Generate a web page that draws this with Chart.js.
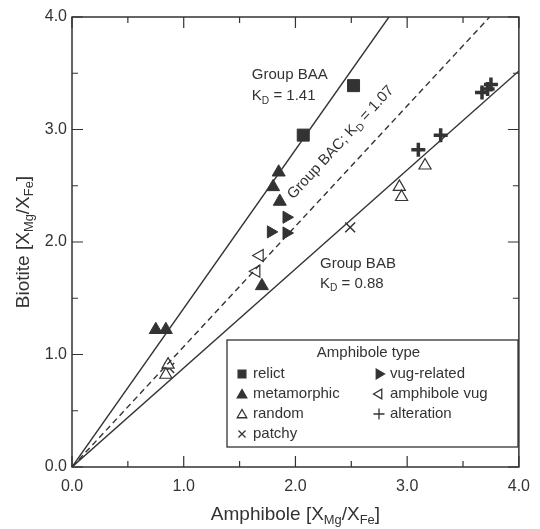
<!DOCTYPE html>
<html>
<head>
<meta charset="utf-8">
<script src="https://cdn.jsdelivr.net/npm/chart.js@4.4.0/dist/chart.umd.min.js"></script>
<style>
  html, body { margin: 0; padding: 0; background: #fff; }
  #kdChart { display: block; }
</style>
</head>
<body>
<canvas id="kdChart" width="540" height="529"></canvas>
<script>
// axis ticks
const tickVals = [0, 1, 2, 3, 4];

// partition coefficients of the three groups
const kdBAA = 1.41;
const kdBAC = 1.07;
const kdBAB = 0.88;

// amphibole / biotite XMg/XFe pairs
const relictX = [2.07, 2.52];
const relictY = [2.95, 3.39];
const metaX = [0.75, 0.84, 1.80, 1.85, 1.86, 1.70];
const metaY = [1.22, 1.22, 2.49, 2.62, 2.36, 1.61];
const randomX = [0.86, 0.84, 2.93, 2.95, 3.16];
const randomY = [0.91, 0.82, 2.49, 2.40, 2.68];
const patchyX = [0.87, 2.49];
const patchyY = [0.88, 2.13];
const vugRelX = [1.92, 1.78, 1.92];
const vugRelY = [2.22, 2.09, 2.08];
const amphVugX = [1.68, 1.65];
const amphVugY = [1.88, 1.74];
const altX = [3.10, 3.30, 3.67, 3.72, 3.75];
const altY = [2.82, 2.95, 3.33, 3.36, 3.40];

const ink = '#333';
const FONT = '"Liberation Sans", Arial, sans-serif';

const pts = (xs, ys) => xs.map((x, i) => ({ x: x, y: ys[i] }));
// line through origin with slope kd, cut at the plot frame (4 x 4)
const kdLine = kd => kd >= 1 ? [{ x: 0, y: 0 }, { x: 4 / kd, y: 4 }] : [{ x: 0, y: 0 }, { x: 4, y: 4 * kd }];

const lineDs = (kd, dash) => ({
    type: 'line', data: kdLine(kd), borderColor: ink, borderWidth: 1.4,
    borderDash: dash, pointRadius: 0, fill: false, isLegend: false
});

const mk = (label, xs, ys, style, extra) => Object.assign({
    label: label, data: pts(xs, ys), pointStyle: style, pointRadius: 7,
    backgroundColor: ink, borderColor: ink, borderWidth: 1, isLegend: true
}, extra || {});

const datasets = [
    lineDs(kdBAA, []),
    lineDs(kdBAC, [6, 4]),
    lineDs(kdBAB, []),
    mk('relict', relictX, relictY, 'rect', { pointRadius: 8.5, legendR: 5.5 }),
    mk('metamorphic', metaX, metaY, 'triangle', { pointRadius: 7.5, legendR: 5.5 }),
    mk('random', randomX, randomY, 'triangle', { backgroundColor: '#fff', borderWidth: 1.2, legendR: 5.5 }),
    mk('patchy', patchyX, patchyY, 'crossRot', { borderWidth: 1.5, legendR: 5 }),
    mk('vug-related', vugRelX, vugRelY, 'triangle', { rotation: 90, legendR: 5.5 }),
    mk('amphibole vug', amphVugX, amphVugY, 'triangle', { rotation: -90, backgroundColor: '#fff', borderWidth: 1.2, legendR: 5.5 }),
    mk('alteration', altX, altY, 'cross', { borderWidth: 3.5, legendR: 5.5 })
];

// text with subscripts: parts = [[text, isSub], ...]
function richWidth(ctx, parts, size) {
    let w = 0;
    parts.forEach(p => { ctx.font = (p[1] ? size * 0.68 : size) + 'px ' + FONT; w += ctx.measureText(p[0]).width; });
    return w;
}
function drawRich(ctx, parts, x, y, size) {
    ctx.textBaseline = 'alphabetic';
    ctx.textAlign = 'left';
    let cx = x;
    parts.forEach(p => {
        const s = p[1] ? size * 0.68 : size;
        ctx.font = s + 'px ' + FONT;
        ctx.fillText(p[0], cx, p[1] ? y + size * 0.22 : y);
        cx += ctx.measureText(p[0]).width;
    });
}

const decor = {
    id: 'decor',
    beforeDatasetsDraw(chart) {
        const { ctx, chartArea: a, scales: { x, y } } = chart;
        ctx.save();
        ctx.strokeStyle = ink;
        ctx.lineWidth = 1.5;
        ctx.strokeRect(a.left, a.top, a.right - a.left, a.bottom - a.top);
        ctx.lineWidth = 1.2;
        for (let v = 0; v <= 4; v += 0.5) {
            const len = Number.isInteger(v) ? 11 : 6;
            const px = x.getPixelForValue(v), py = y.getPixelForValue(v);
            ctx.beginPath();
            ctx.moveTo(px, a.bottom); ctx.lineTo(px, a.bottom - len);
            ctx.moveTo(px, a.top); ctx.lineTo(px, a.top + len);
            ctx.moveTo(a.left, py); ctx.lineTo(a.left + len, py);
            ctx.moveTo(a.right, py); ctx.lineTo(a.right - len, py);
            ctx.stroke();
        }
        ctx.restore();
    },
    afterDraw(chart) {
        const { ctx, chartArea: a, scales: { x, y } } = chart;
        ctx.save();
        ctx.fillStyle = ink;

        // axis titles
        const tSize = 19;
        const xt = [['Amphibole [X', false], ['Mg', true], ['/X', false], ['Fe', true], [']', false]];
        const yt = [['Biotite [X', false], ['Mg', true], ['/X', false], ['Fe', true], [']', false]];
        let w = richWidth(ctx, xt, tSize);
        drawRich(ctx, xt, (a.left + a.right) / 2 - w / 2, 520, tSize);
        w = richWidth(ctx, yt, tSize);
        ctx.save();
        ctx.translate(29, (a.top + a.bottom) / 2);
        ctx.rotate(-Math.PI / 2);
        drawRich(ctx, yt, -w / 2, 0, tSize);
        ctx.restore();

        // group labels
        const gSize = 15;
        ctx.font = gSize + 'px ' + FONT;
        ctx.textBaseline = 'alphabetic';
        ctx.fillText('Group BAA', x.getPixelForValue(1.61), y.getPixelForValue(3.45));
        drawRich(ctx, [['K', false], ['D', true], [' = ' + kdBAA.toFixed(2), false]], x.getPixelForValue(1.61), y.getPixelForValue(3.26), gSize);
        ctx.font = gSize + 'px ' + FONT;
        ctx.fillText('Group BAB', x.getPixelForValue(2.22), y.getPixelForValue(1.77));
        drawRich(ctx, [['K', false], ['D', true], [' = ' + kdBAB.toFixed(2), false]], x.getPixelForValue(2.22), y.getPixelForValue(1.59), gSize);

        // rotated label along the dashed line
        const p0x = x.getPixelForValue(0), p0y = y.getPixelForValue(0);
        const p1x = x.getPixelForValue(3), p1y = y.getPixelForValue(3 * kdBAC);
        const ang = Math.atan2(p1y - p0y, p1x - p0x);
        const bac = [['Group BAC; K', false], ['D', true], [' = ' + kdBAC.toFixed(2), false]];
        w = richWidth(ctx, bac, gSize);
        ctx.save();
        ctx.translate(x.getPixelForValue(2.40), y.getPixelForValue(2.89));
        ctx.rotate(ang);
        drawRich(ctx, bac, -w / 2, 5, gSize);
        ctx.restore();

        // legend box
        const bx = 227, by = 340, bw = 291, bh = 107;
        ctx.fillStyle = '#fff';
        ctx.fillRect(bx, by, bw, bh);
        ctx.strokeStyle = ink;
        ctx.lineWidth = 1.3;
        ctx.strokeRect(bx, by, bw, bh);
        ctx.fillStyle = ink;
        ctx.font = '15px ' + FONT;
        ctx.textAlign = 'center';
        ctx.textBaseline = 'middle';
        ctx.fillText('Amphibole type', bx + bw / 2 - 4, by + 13);

        const items = chart.data.datasets.filter(d => d.isLegend);
        items.forEach((d, i) => {
            const col = i < 4 ? 0 : 1;
            const row = i < 4 ? i : i - 4;
            const mx = col ? 379 : 242;
            const my = 374 + row * 20;
            ctx.fillStyle = d.backgroundColor;
            ctx.strokeStyle = d.borderColor;
            Chart.helpers.drawPoint(ctx, {
                pointStyle: d.pointStyle, rotation: d.rotation || 0,
                radius: d.legendR, borderWidth: d.borderWidth
            }, mx, my + (d.pointStyle === 'triangle' && !d.rotation ? 1 : 0));
            ctx.fillStyle = ink;
            ctx.textAlign = 'left';
            ctx.textBaseline = 'middle';
            ctx.font = '15px ' + FONT;
            ctx.fillText(d.label, mx + 11, my);
        });
        ctx.restore();
    }
};

new Chart(document.getElementById('kdChart'), {
    type: 'scatter',
    data: { datasets: datasets },
    plugins: [decor],
    options: {
        responsive: false,
        animation: false,
        layout: { padding: { top: 17, right: 13, left: 0, bottom: 0 } },
        plugins: { legend: { display: false }, tooltip: { enabled: false } },
        scales: {
            x: {
                type: 'linear', min: 0, max: 4,
                afterFit: s => { s.height = 62; },
                afterBuildTicks: s => { s.ticks = tickVals.map(v => ({ value: v })); },
                grid: { display: false, drawTicks: false },
                border: { display: false },
                ticks: { padding: 10, color: ink, font: { size: 16, family: FONT }, callback: v => Number(v).toFixed(1) }
            },
            y: {
                type: 'linear', min: 0, max: 4,
                afterFit: s => { s.width = 72; },
                afterBuildTicks: s => { s.ticks = tickVals.map(v => ({ value: v })); },
                grid: { display: false, drawTicks: false },
                border: { display: false },
                ticks: { padding: 5, color: ink, font: { size: 16, family: FONT }, callback: v => Number(v).toFixed(1) }
            }
        }
    }
});
</script>
</body>
</html>
